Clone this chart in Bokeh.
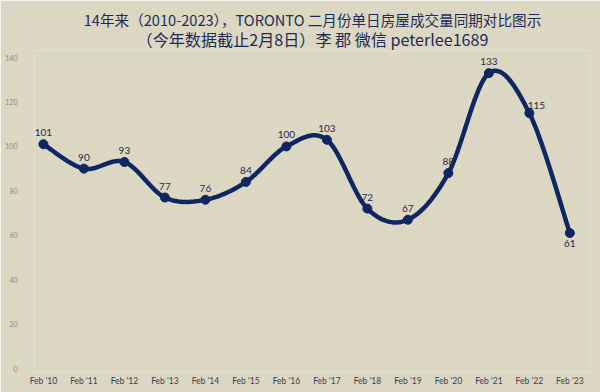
import numpy as np
from bokeh.plotting import figure
from bokeh.models import FixedTicker, Range1d, Title, ColumnDataSource
from bokeh.embed import file_html
from bokeh.resources import INLINE
from bokeh.core.properties import value

categories = ["Feb '10", "Feb '11", "Feb '12", "Feb '13", "Feb '14", "Feb '15", "Feb '16",
              "Feb '17", "Feb '18", "Feb '19", "Feb '20", "Feb '21", "Feb '22", "Feb '23"]
sales = [101, 90, 93, 77, 76, 84, 100, 103, 72, 67, 88, 133, 115, 61]
y_ticks = [0, 20, 40, 60, 80, 100, 120, 140]
title_line1 = "14年来（2010-2023），TORONTO 二月份单日房屋成交量同期对比图示"
title_line2 = "（今年数据截止2月8日）李 郡 微信 peterlee1689"

BG = "#DCD7C2"
NAVY = "#0E2661"

xs = np.arange(len(sales), dtype=float)
ys = np.array(sales, dtype=float)

# Smooth curve (Catmull-Rom, as used by spreadsheet "smoothed line")
P = np.column_stack([xs, ys])
Pext = np.vstack([P[0], P, P[-1]])
cx, cy = [], []
for i in range(len(P) - 1):
    p0, p1, p2, p3 = Pext[i], Pext[i + 1], Pext[i + 2], Pext[i + 3]
    c1 = p1 + (p2 - p0) / 6.0
    c2 = p2 - (p3 - p1) / 6.0
    t = np.linspace(0, 1, 30)[:, None]
    seg = ((1 - t) ** 3) * p1 + 3 * ((1 - t) ** 2) * t * c1 + 3 * (1 - t) * t * t * c2 + (t ** 3) * p2
    if i > 0:
        seg = seg[1:]
    cx.extend(seg[:, 0]); cy.extend(seg[:, 1])

p = figure(width=600, height=392, output_backend="svg", toolbar_location=None,
           x_range=Range1d(-0.22, 13.51), y_range=Range1d(-1.8, 143.2),
           min_border_left=34, min_border_right=10, min_border_bottom=20, min_border_top=50,
           background_fill_color=BG, border_fill_color=BG, outline_line_color=None)
p.title = None
p.add_layout(Title(text=title_line2, align="center", text_font="Noto Sans CJK SC",
                   text_font_size="16.1px", text_font_style="normal", text_color="#1F2B57",
                   standoff=-1, offset=2), "above")
p.add_layout(Title(text=title_line1, align="center", text_font="Noto Sans CJK SC",
                   text_font_size="14.6px", text_font_style="normal", text_color="#1F2B57",
                   standoff=-8, offset=14), "above")

p.grid.visible = False

p.xaxis.ticker = FixedTicker(ticks=list(range(len(categories))))
p.xaxis.major_label_overrides = {i: c for i, c in enumerate(categories)}
p.xaxis.axis_line_color = None
p.xaxis.major_tick_line_color = None
p.xaxis.minor_tick_line_color = None
p.xaxis.major_tick_out = 0
p.xaxis.major_tick_in = 0
p.xaxis.major_label_standoff = 3
p.xaxis.major_label_text_font = "Lato"
p.xaxis.major_label_text_font_size = "8.5px"
p.xaxis.major_label_text_color = "#3A3F55"

p.yaxis.ticker = FixedTicker(ticks=y_ticks)
p.yaxis.axis_line_color = None
p.yaxis.major_tick_line_color = None
p.yaxis.minor_tick_line_color = None
p.yaxis.major_tick_out = 0
p.yaxis.major_tick_in = 0
p.yaxis.major_label_standoff = 17
p.yaxis.major_label_text_font = "Lato"
p.yaxis.major_label_text_font_size = "7px"
p.yaxis.major_label_text_color = "#8F8A78"

p.line(cx, cy, line_color=NAVY, line_width=4.5)
p.scatter(xs, ys, size=9, fill_color=NAVY, line_color=NAVY)

labels = [str(v) for v in sales]
xoff = [0] * len(sales)
yoff = [-8] * len(sales)
base = ["bottom"] * len(sales)
# special placements
xoff[12] = 7; yoff[12] = -4
yoff[13] = 7; base[13] = "top"
src = ColumnDataSource(dict(x=xs, y=ys, t=labels, xo=xoff, yo=yoff, b=base))
p.text(x="x", y="y", text="t", x_offset="xo", y_offset="yo", text_baseline="b",
       text_align="center", text_font=value("Lato"), text_font_size="10px",
       text_color="#1F2B4F", source=src)

open("out.html", "w").write(file_html(p, INLINE))
